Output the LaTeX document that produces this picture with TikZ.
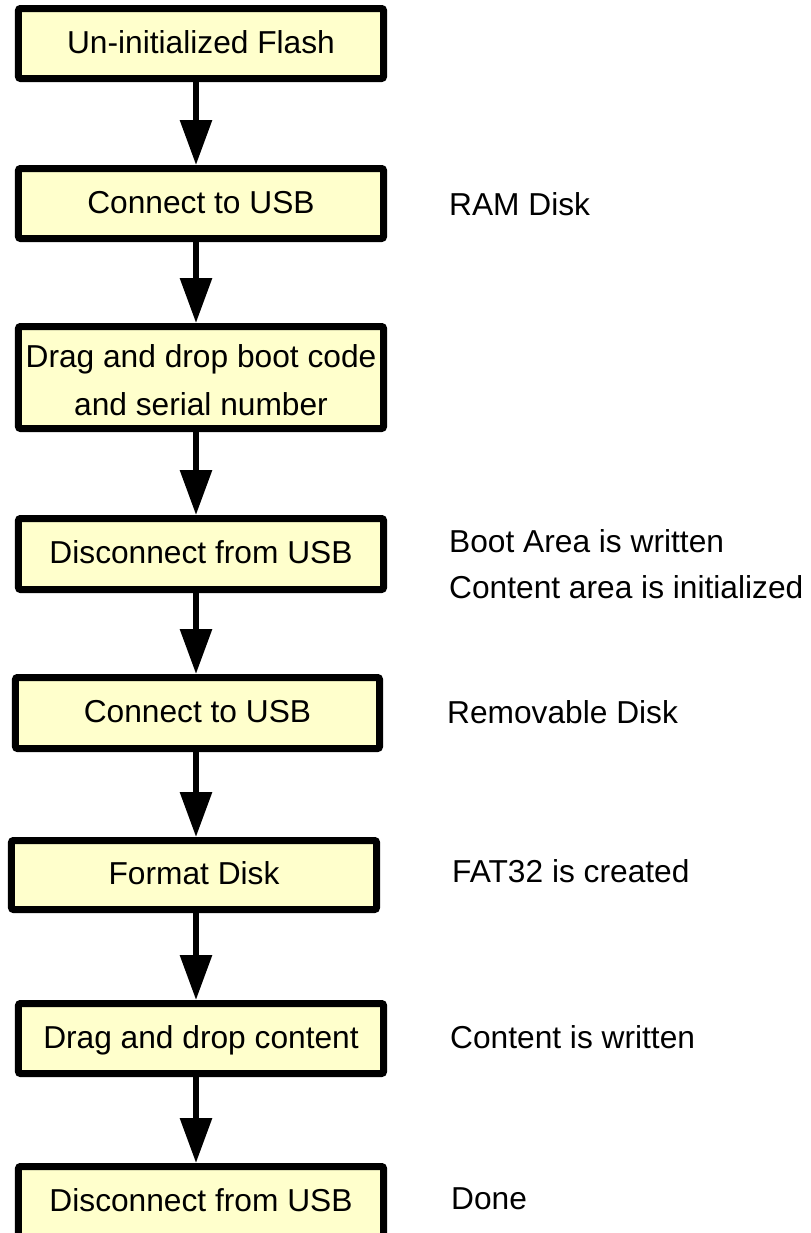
\documentclass[tikz,border=0pt]{standalone}
\usepackage{fontspec}
\setmainfont{Liberation Sans}
\usetikzlibrary{arrows.meta}
\definecolor{boxfill}{RGB}{255,255,204}
\begin{document}
\begin{tikzpicture}[x=1bp,y=-1bp,
  every node/.style={font=\fontsize{31.7bp}{48bp}\selectfont, inner sep=0pt},
  stepbox/.style={draw=black, fill=boxfill, line width=7bp, rounded corners=2bp,
    minimum width=365bp, minimum height=70bp, text height=23bp, text depth=4bp,
    align=center},
  note/.style={anchor=base west},
  flow/.style={line width=6bp, -{Triangle[width=31bp,length=45bp]}}]
  \useasboundingbox (0,0) rectangle (811,1233);
  % vertical axis of the connectors
  \coordinate (axis) at (196,0);

  % process steps
  \node[stepbox] (b1) at (201,43.5) {Un-initialized Flash};
  \node[stepbox] (b2) at (201,203.5) {Connect to USB};
  \node[stepbox, minimum height=102bp, text height=75bp, text depth=0bp] (b3) at (201,377.5)
    {Drag and drop boot code\\and serial number};
  \node[stepbox, minimum height=71bp] (b4) at (201,554) {Disconnect from USB};
  \node[stepbox, minimum width=364bp, minimum height=71bp] (b5) at (197.5,713) {Connect to USB};
  \node[stepbox, minimum height=69bp] (b6) at (194,875) {Format Disk};
  \node[stepbox] (b7) at (201,1038.5) {Drag and drop content};
  \node[stepbox] (b8) at (201,1201.5) {Disconnect from USB};

  % connectors
  \foreach \a/\b in {b1/b2,b2/b3,b3/b4,b4/b5,b5/b6,b6/b7,b7/b8}
    \draw[flow] (\a.south -| axis) -- (\b.north -| axis);

  % resulting states
  \node[note] (s2) at (449,215) {RAM Disk};
  \node[note] (s4a) at (449,552) {Boot Area is written};
  \node[note] (s4b) at (449,598) {Content area is initialized};
  \node[note] (s5) at (447,723) {Removable Disk};
  \node[note] (s6) at (452,882) {FAT32 is created};
  \node[note] (s7) at (450,1048) {Content is written};
  \node[note] (s8) at (451,1209) {Done};
\end{tikzpicture}
\end{document}
